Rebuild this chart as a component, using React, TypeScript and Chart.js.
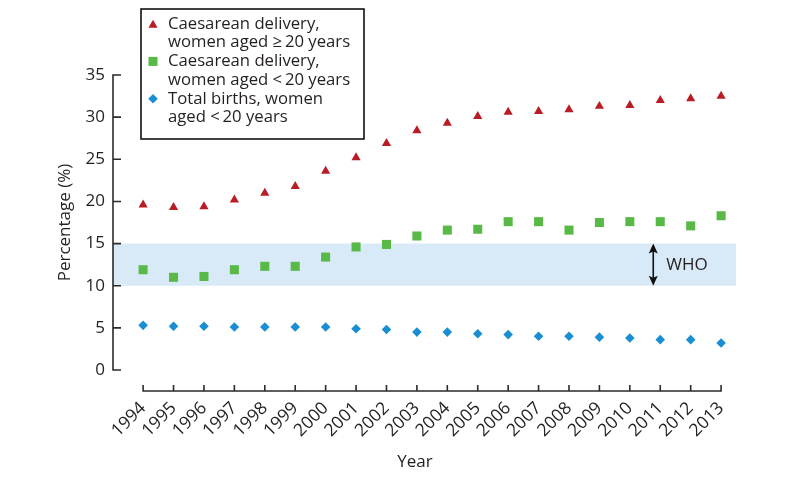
import { useEffect, useRef } from 'react';
import { Chart, registerables } from 'chart.js';

Chart.register(...registerables);

const years = [1994, 1995, 1996, 1997, 1998, 1999, 2000, 2001, 2002, 2003, 2004, 2005, 2006, 2007, 2008, 2009, 2010, 2011, 2012, 2013];
const caesareanOver20 = [19.6, 19.3, 19.4, 20.2, 21.0, 21.8, 23.6, 25.2, 26.9, 28.4, 29.3, 30.1, 30.6, 30.7, 30.9, 31.3, 31.4, 32.0, 32.2, 32.5];
const caesareanUnder20 = [11.9, 11.0, 11.1, 11.9, 12.3, 12.3, 13.4, 14.6, 14.9, 15.9, 16.6, 16.7, 17.6, 17.6, 16.6, 17.5, 17.6, 17.6, 17.1, 18.3];
const totalBirthsUnder20 = [5.3, 5.2, 5.2, 5.1, 5.1, 5.1, 5.1, 4.9, 4.8, 4.5, 4.5, 4.3, 4.2, 4.0, 4.0, 3.9, 3.8, 3.6, 3.6, 3.2];
const yTickValues = [0, 5, 10, 15, 20, 25, 30, 35];
const whoRange = [10, 15];
const whoLabel = 'WHO';
const whoMarkerYear = 2010.77;
const seriesLabels = [
  ['Caesarean delivery,', 'women aged \u2265\u200920 years'],
  ['Caesarean delivery,', 'women aged <\u200920 years'],
  ['Total births, women', 'aged <\u200920 years'],
];
const yTitle = 'Percentage (%)';
const xTitle = 'Year';

const RED = '#b91c24';
const GREEN = '#58b947';
const BLUE = '#1a8ed3';
const BAND = '#d8e9f7';
const AXIS = '#2b2b2b';
const TEXT = '#231f20';
const FONT = '"Open Sans", "Noto Sans", sans-serif';

function drawMarker(ctx: CanvasRenderingContext2D, style: string, x: number, y: number, r: number, color: string) {
  ctx.fillStyle = color;
  ctx.beginPath();
  if (style === 'triangle') {
    ctx.moveTo(x, y - r);
    ctx.lineTo(x + r * Math.sin((2 * Math.PI) / 3), y - r * Math.cos((2 * Math.PI) / 3));
    ctx.lineTo(x + r * Math.sin((4 * Math.PI) / 3), y - r * Math.cos((4 * Math.PI) / 3));
  } else if (style === 'rect') {
    const s = Math.SQRT1_2 * r;
    ctx.rect(x - s, y - s, 2 * s, 2 * s);
  } else {
    ctx.moveTo(x, y - r);
    ctx.lineTo(x + r, y);
    ctx.lineTo(x, y + r);
    ctx.lineTo(x - r, y);
  }
  ctx.closePath();
  ctx.fill();
}

const markerStyles = [
  { style: 'triangle', r: 5.3, color: RED },
  { style: 'rect', r: 6.4, color: GREEN },
  { style: 'rectRot', r: 4.8, color: BLUE },
];

const decorPlugin = {
  id: 'decor',
  beforeDatasetsDraw(chart: any) {
    const { ctx, chartArea, scales } = chart;
    const x = scales.x;
    const y = scales.y;
    ctx.save();
    const yTop = y.getPixelForValue(whoRange[1]);
    const yBot = y.getPixelForValue(whoRange[0]);
    ctx.fillStyle = BAND;
    ctx.fillRect(chartArea.left, yTop, chartArea.right - chartArea.left, yBot - yTop);

    ctx.strokeStyle = AXIS;
    ctx.lineWidth = 1.6;
    ctx.lineJoin = 'miter';
    const ax = chartArea.left;
    const yMaxPx = y.getPixelForValue(yTickValues[yTickValues.length - 1]);
    const yMinPx = y.getPixelForValue(yTickValues[0]);
    ctx.beginPath();
    ctx.moveTo(ax + 8, yMaxPx);
    ctx.lineTo(ax, yMaxPx);
    ctx.lineTo(ax, yMinPx);
    ctx.lineTo(ax + 8, yMinPx);
    ctx.stroke();
    ctx.beginPath();
    yTickValues.slice(1, -1).forEach((v) => {
      const py = y.getPixelForValue(v);
      ctx.moveTo(ax, py);
      ctx.lineTo(ax + 8, py);
    });
    ctx.stroke();
    const by = chartArea.bottom;
    const x0 = x.getPixelForValue(years[0]);
    const xN = x.getPixelForValue(years[years.length - 1]);
    ctx.beginPath();
    ctx.moveTo(x0, by - 6);
    ctx.lineTo(x0, by);
    ctx.lineTo(xN, by);
    ctx.lineTo(xN, by - 6);
    ctx.stroke();
    ctx.beginPath();
    years.slice(1, -1).forEach((v) => {
      const px = x.getPixelForValue(v);
      ctx.moveTo(px, by);
      ctx.lineTo(px, by - 6);
    });
    ctx.stroke();
    ctx.restore();
  },
  afterDatasetsDraw(chart: any) {
    const { ctx, scales } = chart;
    const x = scales.x;
    const y = scales.y;
    ctx.save();
    const yTop = y.getPixelForValue(whoRange[1]);
    const yBot = y.getPixelForValue(whoRange[0]);
    const axp = x.getPixelForValue(whoMarkerYear);
    ctx.strokeStyle = '#111';
    ctx.fillStyle = '#111';
    ctx.lineWidth = 1.6;
    ctx.beginPath();
    ctx.moveTo(axp, yTop + 6);
    ctx.lineTo(axp, yBot - 6);
    ctx.stroke();
    ctx.beginPath();
    ctx.moveTo(axp, yTop);
    ctx.lineTo(axp + 4.5, yTop + 10);
    ctx.lineTo(axp, yTop + 8);
    ctx.lineTo(axp - 4.5, yTop + 10);
    ctx.closePath();
    ctx.fill();
    ctx.beginPath();
    ctx.moveTo(axp, yBot);
    ctx.lineTo(axp + 4.5, yBot - 10);
    ctx.lineTo(axp, yBot - 8);
    ctx.lineTo(axp - 4.5, yBot - 10);
    ctx.closePath();
    ctx.fill();
    ctx.fillStyle = TEXT;
    ctx.font = `17px ${FONT}`;
    ctx.textAlign = 'left';
    ctx.textBaseline = 'middle';
    ctx.fillText(whoLabel, axp + 13, (yTop + yBot) / 2 + 1);

    ctx.font = `17px ${FONT}`;
    ctx.textAlign = 'center';
    ctx.textBaseline = 'middle';
    ctx.fillText(xTitle, 415, 462);
    ctx.save();
    ctx.translate(65, (y.getPixelForValue(0) + y.getPixelForValue(35)) / 2);
    ctx.rotate(-Math.PI / 2);
    ctx.fillText(yTitle, 0, 0);
    ctx.restore();

    const bx = 141, byy = 9, bw = 223, bh = 130;
    ctx.fillStyle = '#ffffff';
    ctx.fillRect(bx, byy, bw, bh);
    ctx.strokeStyle = '#111';
    ctx.lineWidth = 1.6;
    ctx.strokeRect(bx, byy, bw, bh);
    const lineH = 18.7;
    let ly = 24;
    ctx.font = `16.7px ${FONT}`;
    ctx.textAlign = 'left';
    ctx.textBaseline = 'middle';
    seriesLabels.forEach((lines, i) => {
      const m = markerStyles[i];
      drawMarker(ctx, m.style, 153, m.style === 'triangle' ? ly + 1 : ly, m.r, m.color);
      ctx.fillStyle = TEXT;
      lines.forEach((t, j) => {
        ctx.fillText(t, 168, ly + j * lineH);
      });
      ly += lineH * lines.length;
    });
    ctx.restore();
  },
};

export default function App() {
  const ref = useRef<HTMLCanvasElement | null>(null);
  useEffect(() => {
    if (!ref.current) return;
    const seriesData = [caesareanOver20, caesareanUnder20, totalBirthsUnder20];
    const chart = new Chart(ref.current, {
      type: 'scatter',
      data: {
        datasets: seriesData.map((vals, i) => ({
          label: seriesLabels[i].join(' '),
          data: years.map((yr, k) => ({ x: yr, y: vals[k] })),
          pointStyle: markerStyles[i].style as any,
          pointRadius: markerStyles[i].r,
          pointBackgroundColor: markerStyles[i].color,
          pointBorderWidth: 0,
          backgroundColor: markerStyles[i].color,
          borderColor: markerStyles[i].color,
          showLine: false,
        })),
      },
      plugins: [decorPlugin],
      options: {
        animation: false,
        responsive: false,
        events: [],
        layout: { padding: { left: 0, top: 75, right: 64, bottom: 0 } },
        plugins: {
          legend: { display: false },
          tooltip: { enabled: false },
          title: { display: false },
        },
        scales: {
          x: {
            type: 'linear',
            min: 1993.01,
            max: 2013.49,
            grid: { display: false, drawTicks: false },
            border: { display: false },
            afterBuildTicks: (scale: any) => {
              scale.ticks = years.map((v) => ({ value: v }));
            },
            afterFit: (scale: any) => {
              scale.height = 88;
            },
            ticks: {
              autoSkip: false,
              maxRotation: 45,
              minRotation: 45,
              padding: 7,
              color: TEXT,
              font: { family: FONT, size: 17.5 },
              callback: (v: any) => String(v),
            },
          },
          y: {
            type: 'linear',
            min: -2.49,
            max: 35,
            grid: { display: false, drawTicks: false },
            border: { display: false },
            afterBuildTicks: (scale: any) => {
              scale.ticks = yTickValues.map((v) => ({ value: v }));
            },
            afterFit: (scale: any) => {
              scale.width = 113;
            },
            ticks: {
              padding: 8,
              color: TEXT,
              font: { family: FONT, size: 17 },
              callback: (v: any) => String(v),
            },
          },
        },
      },
    });
    return () => chart.destroy();
  }, []);
  return (
    <div style={{ position: 'fixed', left: 0, top: 0, width: 800, height: 479, background: '#fff' }}>
      <canvas ref={ref} width={800} height={479} style={{ width: 800, height: 479, display: 'block' }} />
    </div>
  );
}
